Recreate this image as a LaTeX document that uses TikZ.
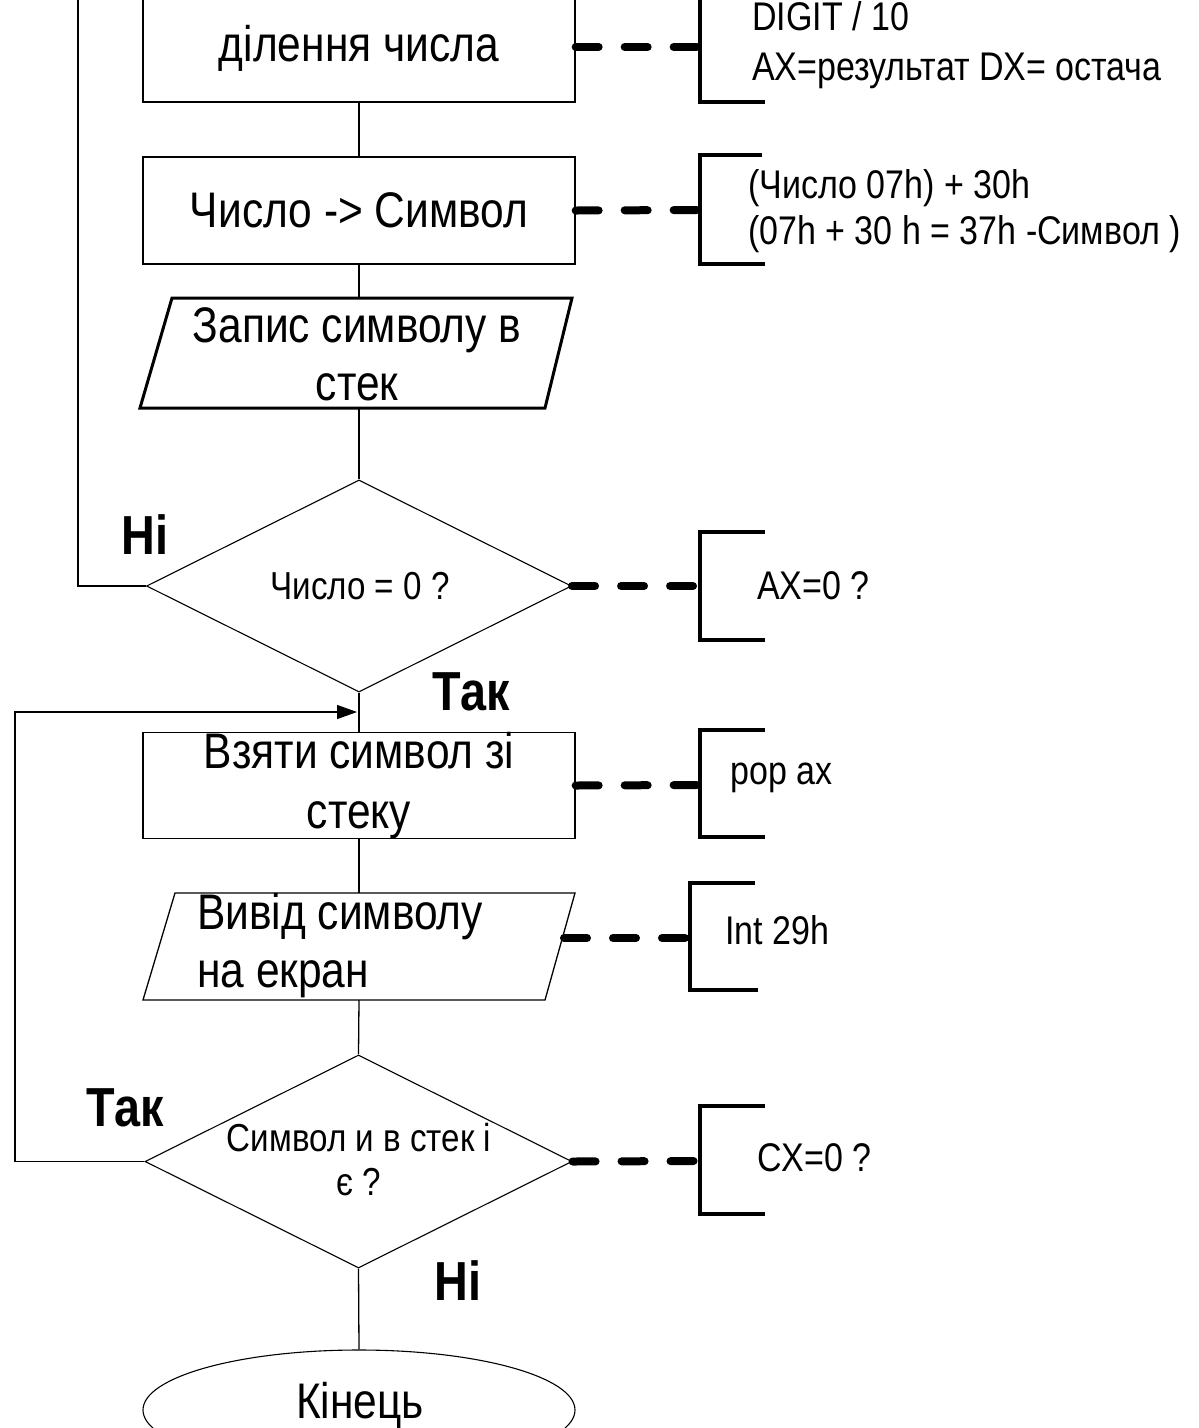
\documentclass[tikz,border=0pt]{standalone}
\usepackage{fontspec}
\setmainfont{Liberation Sans}[FakeStretch=0.85]
\usetikzlibrary{shapes.geometric,arrows.meta}
\begin{document}
\begin{tikzpicture}[x=1pt,y=-1pt,
  flow/.style={line width=1.3pt},
  procbox/.style={draw, line width=1.3pt, minimum width=432pt, minimum height=#1,
    inner sep=0pt, align=center, font=\fontsize{50}{60}\selectfont},
  decision/.style={diamond, draw, line width=1.1pt, inner sep=0pt,
    minimum width=425pt, minimum height=212pt},
  dtext/.style={align=center, inner sep=0pt, font=\fontsize{39}{44}\selectfont},
  iotext/.style={inner sep=0pt, font=\fontsize{50}{58}\selectfont},
  notelink/.style={line width=8pt, line cap=round, dash pattern=on 23pt off 26pt},
  bracket/.style={line width=4.5pt},
  ann/.style={anchor=west, align=left, inner sep=0pt, font=\fontsize{40}{46}\selectfont},
  lbl/.style={inner sep=0pt, font=\bfseries\fontsize{55}{55}\selectfont}]
\useasboundingbox (0,0) rectangle (1199,1428);
\fill[white] (0,0) rectangle (1199,1428);

% main column
\node[procbox=108pt] (div) at (359,48) {ділення числа};
\node[procbox=107pt] (conv) at (359,210.5) {Число -> Символ};

% input/output: push symbol
\draw[line width=3pt, line join=miter] (172,298) -- (572,298) -- (545,408) -- (140,408) -- cycle;
\coordinate (pushT) at (359,298);
\coordinate (pushB) at (359,408);
\node[iotext, align=center] (push) at (357,354) {Запис символу в\\стек};

\node[decision] (zero) at (359,586) {};
\node[dtext] (zerot) at (360,586) {Число = 0 ?};

\node[procbox=105pt] (pop) at (359,785.5) {Взяти символ зі\\стеку};

% input/output: print symbol
\draw[line width=1.3pt] (175,893) -- (575,893) -- (545,1000) -- (143,1000) -- cycle;
\coordinate (outT) at (359,893);
\coordinate (outB) at (359,1000);
\coordinate (outR) at (564,938);
\node[iotext, align=left, anchor=west] (out) at (197,946) {Вивід символу\\на екран};

\node[decision, minimum width=427pt, minimum height=213pt] (more) at (358.5,1161.5) {};
\node[dtext] (moret) at (359,1160) {Символ и в стек і\\ є ?};

\node[ellipse, draw, line width=1.1pt, inner sep=0pt, minimum width=432pt,
  minimum height=120pt] (end) at (359,1410) {};
\node[iotext] (endt) at (360,1405) {Кінець};

% connectors
\draw[flow] (div.south) -- (conv.north);
\draw[flow] (conv.south) -- (pushT);
\draw[flow] (pushB) -- (zero.north);
\draw[flow] (zero.south) -- (pop.north);
\draw[flow] (pop.south) -- (outT);
\draw[flow] (outB) -- (more.north);
\draw[flow] (more.south) -- (end.north);

% loop back while the number is not zero
\coordinate (loopTop) at (78,-10);
\draw[flow] (zero.west) -| (loopTop);

% loop back while symbols remain on the stack
\coordinate (retL) at (15,712);
\coordinate (retIn) at (357,712);
\draw[flow, -{Triangle[length=20pt,width=14pt]}] (more.west) -| (retL) -- (retIn);

% branch labels
\node[lbl] at (145,535) {Ні};
\node[lbl] at (471,692) {Так};
\node[lbl] at (125,1108) {Так};
\node[lbl] at (458,1281) {Ні};

% comments
\coordinate (b1) at (700,47);
\draw[bracket] (700,-10) -- (700,102) -- (765,102);
\draw[notelink] (div.east |- b1) -- (b1);
\node[ann, font=\fontsize{40}{50}\selectfont] (n1) at (752,45) {DIGIT / 10\\AX=результат DX= остача};

\coordinate (b2) at (700,210);
\draw[bracket] (762,155) -- (700,155) -- (700,264) -- (765,264);
\draw[notelink] (conv.east) -- (b2);
\node[ann] (n2) at (748,211) {(Число 07h) + 30h\\(07h + 30 h = 37h -Символ )};

\coordinate (b3) at (700,586);
\draw[bracket] (765,532) -- (700,532) -- (700,640) -- (765,640);
\draw[notelink] (zero.east) -- (b3);
\node[ann] (n3) at (757,586) {AX=0 ?};

\coordinate (b4) at (700,785);
\draw[bracket] (765,730) -- (700,730) -- (700,837) -- (765,837);
\draw[notelink] (pop.east) -- (b4);
\node[ann] (n4) at (730,778) {pop ax};

\coordinate (b5) at (690,938);
\draw[bracket] (755,883) -- (690,883) -- (690,990) -- (758,990);
\draw[notelink] (outR) -- (b5);
\node[ann] (n5) at (725,930) {Int 29h};

\coordinate (b6) at (700,1161);
\draw[bracket] (765,1106) -- (700,1106) -- (700,1214) -- (765,1214);
\draw[notelink] (more.east) -- (b6);
\node[ann] (n6) at (757,1158) {CX=0 ?};
\end{tikzpicture}
\end{document}
